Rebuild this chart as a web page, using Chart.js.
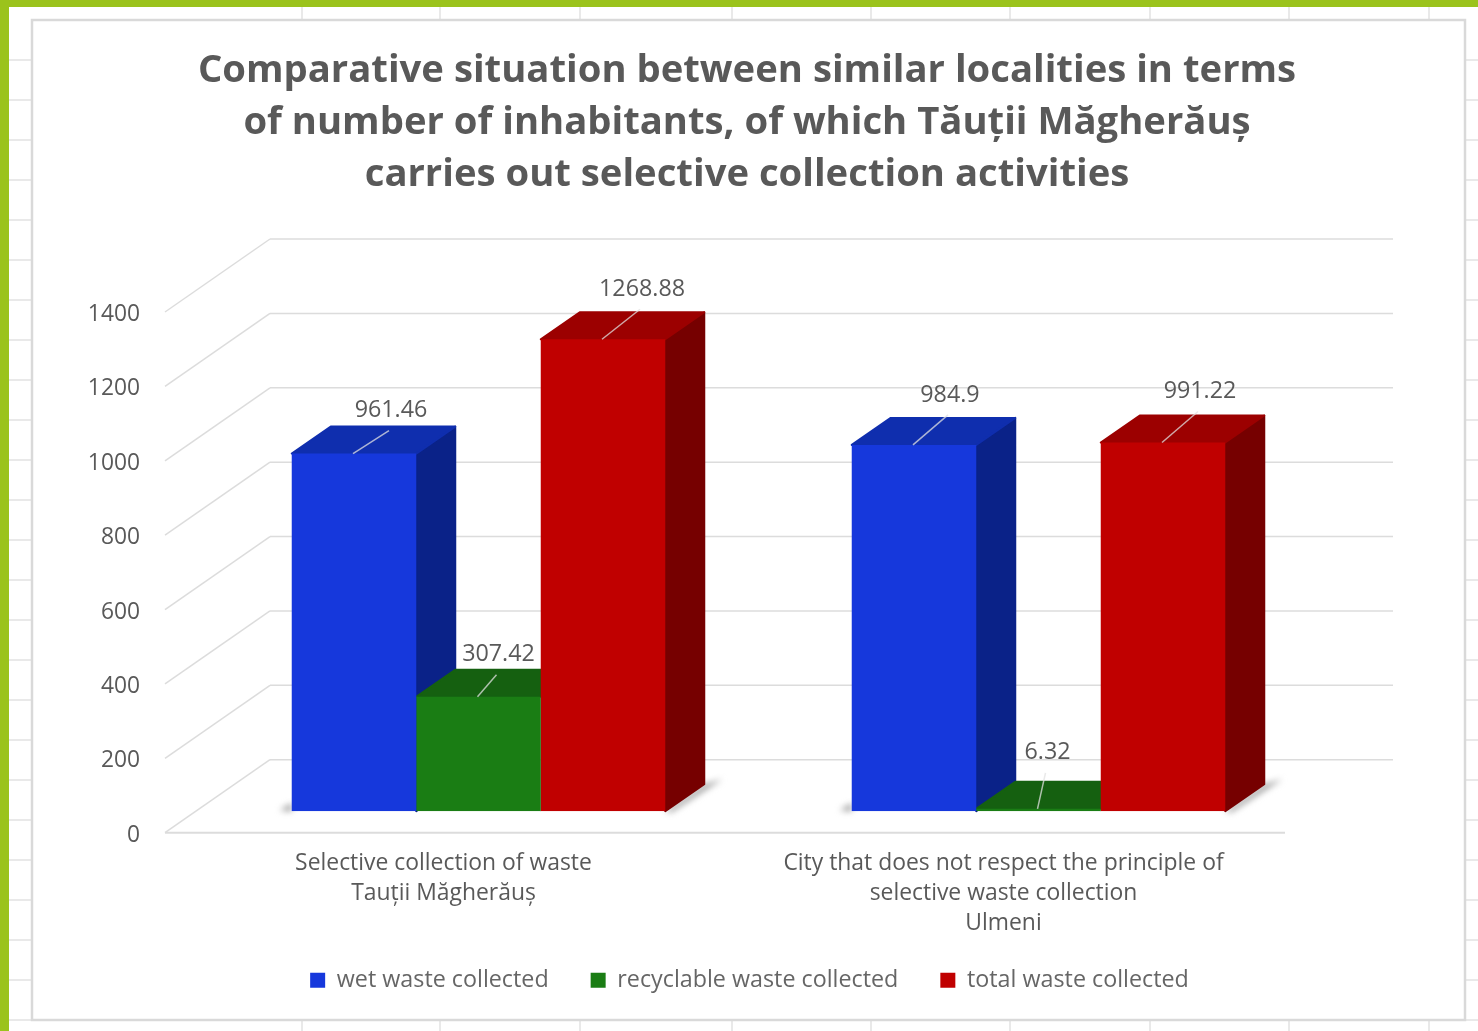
<!DOCTYPE html>
<html lang="en">
<head>
  <meta charset="UTF-8" />
  <title>Selective collection comparison</title>
  <script src="https://cdn.jsdelivr.net/npm/chart.js"></script>
  <style>
    html, body { margin: 0; padding: 0; background: #fff; overflow: hidden; }
    canvas { display: block; filter: blur(0.5px); }
  </style>
</head>
<body>
  <canvas id="chart" width="1478" height="1031"></canvas>

  <script>
    const categories = [
      ["Selective collection of waste", "Tauții Măgherăuș"],
      ["City that does not respect the principle of", "selective waste collection", "Ulmeni"]
    ];
    const wetWaste = [961.46, 984.9];
    const recyclableWaste = [307.42, 6.32];
    const totalWaste = [1268.88, 991.22];
    const titleLines = [
      "Comparative situation between similar localities in terms",
      "of number of inhabitants, of which Tăuții Măgherăuș",
      "carries out selective collection activities"
    ];

    const FONT = "'Open Sans', sans-serif";
    const GREY = "#595959";
    const GRID = "#dcdcdc";

    // fake 3D: how far the bars sit behind the front plane, and how deep they are
    const barShift = { x: 33.5, y: -21.5 };
    const barDepth = { x: 39, y: -27 };
    const wallShift = { x: 105, y: -73 };

    const faces = [
      { top: "#0f2eae", side: "#0a2288" },
      { top: "#156010", side: "#104d0c" },
      { top: "#9c0000", side: "#760000" }
    ];

    // label offset from the bar's front top centre, series by category
    const labelOffsets = [
      [[37, -43], [36, -50]],
      [[20, -42], [9, -56]],
      [[39, -50], [37, -51]]
    ];

    function poly(ctx, pts, fill, round) {
      ctx.beginPath();
      pts.forEach((p, i) => i ? ctx.lineTo(p[0], p[1]) : ctx.moveTo(p[0], p[1]));
      ctx.closePath();
      ctx.fillStyle = fill;
      ctx.fill();
      if (round) {
        ctx.strokeStyle = fill;
        ctx.lineWidth = 2;
        ctx.lineJoin = "round";
        ctx.stroke();
      }
    }

    function line(ctx, x1, y1, x2, y2, color, width) {
      ctx.beginPath();
      ctx.moveTo(x1, y1);
      ctx.lineTo(x2, y2);
      ctx.strokeStyle = color;
      ctx.lineWidth = width;
      ctx.stroke();
    }

    function barBox(chart, ds, i) {
      const b = chart.getDatasetMeta(ds).data[i].getProps(["x", "y", "base", "width"], true);
      return { l: b.x - b.width / 2, r: b.x + b.width / 2, t: b.y, b: b.base, c: b.x };
    }

    const sheetPlugin = {
      id: "sheet",
      afterLayout(chart) {
        // title and legend are centred on the sheet, not on the plot
        chart.titleBlock.left = 32;
        chart.titleBlock.right = 1462;
        chart.legend.left = 32;
        chart.legend.right = 1467;
        chart.legend.top -= 16;
      },
      beforeDraw(chart) {
        const ctx = chart.ctx;
        ctx.save();
        ctx.fillStyle = "#fff";
        ctx.fillRect(0, 0, 1478, 1031);
        // spreadsheet cells behind the chart
        for (let y = 60; y < 1031; y += 40) {
          line(ctx, 9, y, 32, y, "#e2e2e2", 1.5);
          line(ctx, 1465, y, 1478, y, "#e2e2e2", 1.5);
        }
        [302, 440, 580, 732, 871, 1010, 1150, 1289, 1429].forEach(x => {
          line(ctx, x, 7, x, 20, "#e2e2e2", 1.5);
          line(ctx, x, 1020, x, 1031, "#e2e2e2", 1.5);
        });
        ctx.strokeStyle = "#d9d9d9";
        ctx.lineWidth = 2.5;
        ctx.strokeRect(32, 20, 1433, 1000);
        // green slide border
        ctx.fillStyle = "#9bc31c";
        ctx.fillRect(0, 0, 1478, 7);
        ctx.fillRect(0, 0, 9, 1031);
        ctx.restore();
      },
      beforeDatasetsDraw(chart) {
        const ctx = chart.ctx;
        const y = chart.scales.y;
        const area = chart.chartArea;
        ctx.save();
        // back wall and left wall
        y.ticks.forEach(t => {
          const py = y.getPixelForValue(t.value);
          line(ctx, area.left, py, area.left + wallShift.x, py + wallShift.y, GRID, 1.5);
          line(ctx, area.left + wallShift.x, py + wallShift.y, area.right + wallShift.x + 3, py + wallShift.y, GRID, 1.5);
        });
        line(ctx, area.left, area.bottom, area.right, area.bottom, GRID, 2);

        // floor shadows at each end of the group
        ctx.save();
        ctx.filter = "blur(3px)";
        categories.forEach((c, i) => {
          const first = barBox(chart, 0, i), last = barBox(chart, 2, i);
          const by = last.b + barShift.y;
          const rx = last.r + barShift.x;
          poly(ctx, [[rx, by], [rx + barDepth.x, by + barDepth.y], [rx + barDepth.x + 18, by + barDepth.y - 5], [rx + 6, by + 1]], "#a0a0a0");
          const lx = first.l + barShift.x;
          poly(ctx, [[lx - 12, by - 1], [lx, by - 8], [lx, by]], "#989898");
        });
        ctx.restore();

        // side and top faces, left to right; the library paints the front faces over them
        ctx.translate(barShift.x, barShift.y);
        categories.forEach((c, i) => {
          faces.forEach((f, ds) => {
            const b = barBox(chart, ds, i);
            const dx = barDepth.x, dy = barDepth.y;
            poly(ctx, [[b.r, b.t], [b.r + dx, b.t + dy], [b.r + dx, b.b + dy], [b.r, b.b]], f.side, ds === 2 || ds === 0);
            poly(ctx, [[b.l, b.t], [b.l + dx, b.t + dy], [b.r + dx, b.t + dy], [b.r, b.t]], f.top, true);
          });
        });
        // leave the translate on for the bars, undone in afterDatasetsDraw
      },
      afterDatasetsDraw(chart) {
        const ctx = chart.ctx;
        ctx.restore();
        ctx.save();
        ctx.font = "23.3px " + FONT;
        ctx.fillStyle = GREY;
        ctx.textAlign = "center";
        ctx.textBaseline = "middle";
        chart.data.datasets.forEach((d, ds) => {
          d.data.forEach((v, i) => {
            const b = barBox(chart, ds, i);
            const cx = b.c + barShift.x, ty = b.t + barShift.y;
            const o = labelOffsets[ds][i];
            line(ctx, cx - 1, ty, cx + o[0] - 2, ty + o[1] + 20, "rgba(225,225,225,0.75)", 1.5);
            ctx.fillText(String(v), cx + o[0], ty + o[1]);
          });
        });
        ctx.restore();
      }
    };

    new Chart(document.getElementById("chart"), {
      type: "bar",
      data: {
        labels: categories,
        datasets: [
          { label: "wet waste collected", data: wetWaste, backgroundColor: "#1638dc" },
          { label: "recyclable waste collected", data: recyclableWaste, backgroundColor: "#1a7d14" },
          { label: "total waste collected", data: totalWaste, backgroundColor: "#c00000" }
        ]
      },
      options: {
        responsive: false,
        animation: false,
        layout: { padding: { top: 45, right: 193, bottom: 13, left: 0 } },
        datasets: { bar: { categoryPercentage: 0.667, barPercentage: 1 } },
        plugins: {
          tooltip: { enabled: false },
          title: {
            display: true,
            text: titleLines,
            color: GREY,
            font: { family: FONT, size: 38.25, weight: "bold", lineHeight: "52px" },
            padding: { top: 0, bottom: 111 }
          },
          legend: {
            position: "bottom",
            labels: {
              color: "#666",
              font: { family: FONT, size: 23.3 },
              boxWidth: 15,
              boxHeight: 15,
              padding: 42
            }
          }
        },
        scales: {
          x: {
            grid: { display: false },
            border: { display: false },
            ticks: {
              color: GREY,
              font: { family: FONT, size: 22.9, lineHeight: "30px" },
              padding: 8,
              labelOffset: -1.5,
              maxRotation: 0,
              autoSkip: false
            },
            afterFit(s) { s.height = 110; }
          },
          y: {
            min: 0,
            max: 1400,
            grid: { display: false },
            border: { display: false },
            ticks: {
              stepSize: 200,
              color: GREY,
              font: { family: FONT, size: 22.8 },
              padding: 17,
              labelOffset: 2.5,
              callback: v => String(v)
            },
            afterFit(s) { s.width = 165; }
          }
        }
      },
      plugins: [sheetPlugin]
    });
  </script>
</body>
</html>
